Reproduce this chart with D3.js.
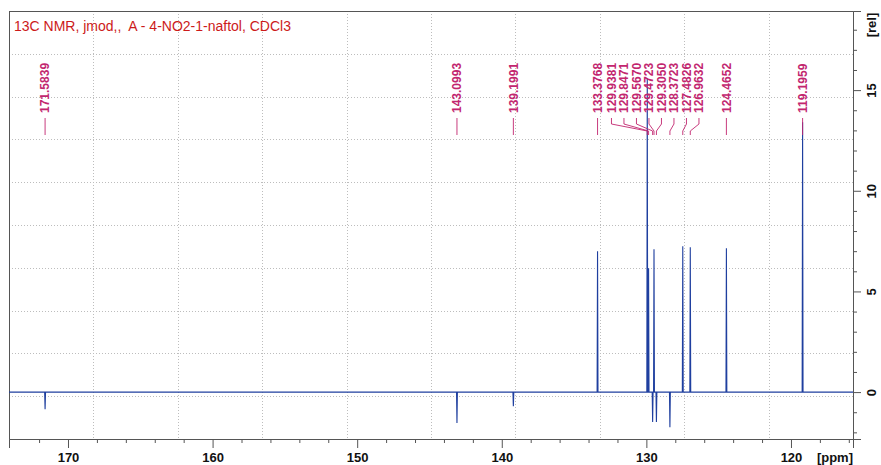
<!DOCTYPE html>
<html>
<head>
<meta charset="utf-8">
<script src="https://cdn.jsdelivr.net/npm/d3@7"></script>
<style>
  html, body { margin: 0; padding: 0; background: #fff; }
  svg { display: block; font-family: "Liberation Sans", Arial, sans-serif; }
</style>
</head>
<body>
<svg id="chart" width="881" height="465"></svg>
<script>
// 13C JMOD spectrum: peak positions (ppm) and signed intensities (rel)
const peakPpm = [171.5839, 143.0993, 139.1991, 133.3768, 129.9381, 129.8471,
                 129.5670, 129.4723, 129.3050, 128.3723, 127.4826, 126.9632,
                 124.4652, 119.1959];
const peakHeight = [-0.85, -1.54, -0.70, 7.00, 15.6, 6.15,
                    -1.49, 7.10, -1.49, -1.74, 7.25, 7.20,
                    7.15, 13.4];
const peakLabels = ["171.5839", "143.0993", "139.1991", "133.3768", "129.9381", "129.8471",
                    "129.5670", "129.4723", "129.3050", "128.3723", "127.4826", "126.9632",
                    "124.4652", "119.1959"];

// Axes
const ppmRange = [174.08, 115.71];
const relRange = [-2.33, 18.93];
const ppmMajorTicks = [170, 160, 150, 140, 130, 120];
const ppmMinorTicks = [172, 168, 166, 164, 162, 158, 156, 154, 152, 148, 146, 144, 142,
                       138, 136, 134, 132, 128, 126, 124, 122, 118, 116];
const relMajorTicks = [0, 5, 10, 15];
const relMinorTicks = [-2, -1, 1, 2, 3, 4, 6, 7, 8, 9, 11, 12, 13, 14, 16, 17, 18];

const title = "13C NMR, jmod,,  A - 4-NO2-1-naftol, CDCl3";

const W = 881, H = 465;
const margin = { top: 11, right: 28, bottom: 26, left: 9 };
const iw = W - margin.left - margin.right;
const ih = H - margin.top - margin.bottom;

const svg = d3.select("#chart");
const g = svg.append("g").attr("transform", `translate(${margin.left},${margin.top})`);

const x = d3.scaleLinear().domain(ppmRange).range([0, iw]);
const y = d3.scaleLinear().domain(relRange).range([ih, 0]);

// dotted grid: ten divisions each way
const gridColor = "#bdbdbd";
const grid = g.append("g").attr("stroke", gridColor).attr("stroke-width", 1)
  .attr("stroke-dasharray", "1,2");
d3.range(1, 10).forEach(i => {
  const gx = Math.round(iw * i / 10) + 0.5;
  const gy = Math.round(ih * i / 10) + 0.5;
  grid.append("line").attr("x1", gx).attr("x2", gx).attr("y1", 0).attr("y2", ih);
  grid.append("line").attr("x1", 0).attr("x2", iw).attr("y1", gy).attr("y2", gy);
});

// frame (left and top edges)
const frameColor = "#555";
g.append("line").attr("x1", 0.5).attr("x2", 0.5).attr("y1", 0).attr("y2", ih)
  .attr("stroke", frameColor);
g.append("line").attr("x1", 0).attr("x2", iw).attr("y1", 0.5).attr("y2", 0.5)
  .attr("stroke", frameColor);

// x axis (ppm), major and minor ticks
function styleAxis(sel) {
  sel.select(".domain").attr("stroke", frameColor);
  sel.selectAll(".tick line").attr("stroke", frameColor);
}
const xMinor = g.append("g").attr("transform", `translate(0,${ih})`)
  .call(d3.axisBottom(x).tickValues(ppmMinorTicks).tickSize(4).tickFormat(""));
styleAxis(xMinor);
const xMajor = g.append("g").attr("transform", `translate(0,${ih})`)
  .call(d3.axisBottom(x).tickValues(ppmMajorTicks).tickSize(9).tickPadding(5).tickFormat(d3.format("d")));
styleAxis(xMajor);
xMajor.selectAll(".tick text")
  .attr("fill", "#111").attr("font-size", 13).attr("font-weight", "bold")
  .attr("font-family", "Liberation Sans, Arial, sans-serif");
g.append("text").attr("x", iw).attr("y", ih + 23).attr("text-anchor", "end")
  .attr("font-size", 13).attr("font-weight", "bold").attr("fill", "#111").text("[ppm]");

// y axis (rel) on the right
const yMinor = g.append("g").attr("transform", `translate(${iw},0)`)
  .call(d3.axisRight(y).tickValues(relMinorTicks).tickSize(4).tickFormat(""));
styleAxis(yMinor);
const yMajor = g.append("g").attr("transform", `translate(${iw},0)`)
  .call(d3.axisRight(y).tickValues(relMajorTicks).tickSize(8).tickFormat(d3.format("d")));
styleAxis(yMajor);
yMajor.selectAll(".tick text")
  .attr("x", null).attr("dy", null)
  .attr("transform", "translate(18,0) rotate(-90)")
  .attr("text-anchor", "middle").attr("dy", "0.35em")
  .attr("fill", "#111").attr("font-size", 13).attr("font-weight", "bold")
  .attr("font-family", "Liberation Sans, Arial, sans-serif");
g.append("text")
  .attr("transform", `translate(${iw + 18},${14}) rotate(-90)`)
  .attr("text-anchor", "middle").attr("dy", "0.35em")
  .attr("font-size", 13).attr("font-weight", "bold").attr("fill", "#111").text("[rel]");

// spectrum trace: flat baseline with a narrow line at each peak
const halfWidth = 0.03;
const order = d3.range(peakPpm.length).sort((a, b) => peakPpm[b] - peakPpm[a]);
const trace = [[ppmRange[0], 0]];
order.forEach(i => {
  trace.push([peakPpm[i] + halfWidth, 0]);
  trace.push([peakPpm[i], peakHeight[i]]);
  trace.push([peakPpm[i] - halfWidth, 0]);
});
trace.push([ppmRange[1], 0]);

g.append("defs").append("clipPath").attr("id", "plotClip")
  .append("rect").attr("width", iw).attr("height", ih);
g.append("path")
  .datum(trace)
  .attr("clip-path", "url(#plotClip)")
  .attr("fill", "none")
  .attr("stroke", "#1f3f9f")
  .attr("stroke-width", 1.1)
  .attr("stroke-linejoin", "miter")
  .attr("d", d3.line().x(d => x(d[0])).y(d => y(d[1])));

// peak labels: spread overlapping labels around the median of their peaks
const labelGap = 12.5;
const labelColor = "#c2266f";
const idx = d3.range(peakPpm.length).sort((a, b) => x(peakPpm[a]) - x(peakPpm[b]));
let clusters = [];
function place(c) {
  const xs = c.members.map(i => x(peakPpm[i])).sort((a, b) => a - b);
  const center = d3.median(xs);
  const n = c.members.length;
  c.pos = c.members.map((_, k) => center + (k - (n - 1) / 2) * labelGap);
}
idx.forEach(i => {
  const c = { members: [i] };
  place(c);
  clusters.push(c);
  while (clusters.length > 1) {
    const a = clusters[clusters.length - 2], b = clusters[clusters.length - 1];
    if (a.pos[a.pos.length - 1] + labelGap > b.pos[0]) {
      const m = { members: a.members.concat(b.members) };
      place(m);
      clusters.splice(clusters.length - 2, 2, m);
    } else break;
  }
});
const labelX = new Array(peakPpm.length);
clusters.forEach(c => c.members.forEach((i, k) => { labelX[i] = c.pos[k]; }));

const labelBase = 113 - margin.top;
const leadTop = 118 - margin.top, leadKnee = 124 - margin.top;
const leadFoot = 131 - margin.top, leadEnd = 135 - margin.top;
const labels = g.append("g");
peakPpm.forEach((p, i) => {
  const px = x(p), lx = labelX[i];
  labels.append("text")
    .attr("transform", `translate(${lx},${labelBase}) rotate(-90)`)
    .attr("dy", "0.36em")
    .attr("font-size", 12).attr("font-weight", "bold")
    .attr("fill", labelColor).text(peakLabels[i]);
  const pts = Math.abs(lx - px) < 0.8
    ? [[px, leadTop], [px, leadEnd]]
    : [[lx, leadTop], [lx, leadKnee], [px, leadFoot], [px, leadEnd]];
  labels.append("path")
    .attr("d", d3.line()(pts))
    .attr("fill", "none").attr("stroke", labelColor).attr("stroke-width", 0.9);
});

// title
svg.append("text")
  .attr("x", 14).attr("y", 31)
  .attr("font-size", 14).attr("fill", "#cc1a1a")
  .style("white-space", "pre")
  .text(title);
</script>
</body>
</html>
